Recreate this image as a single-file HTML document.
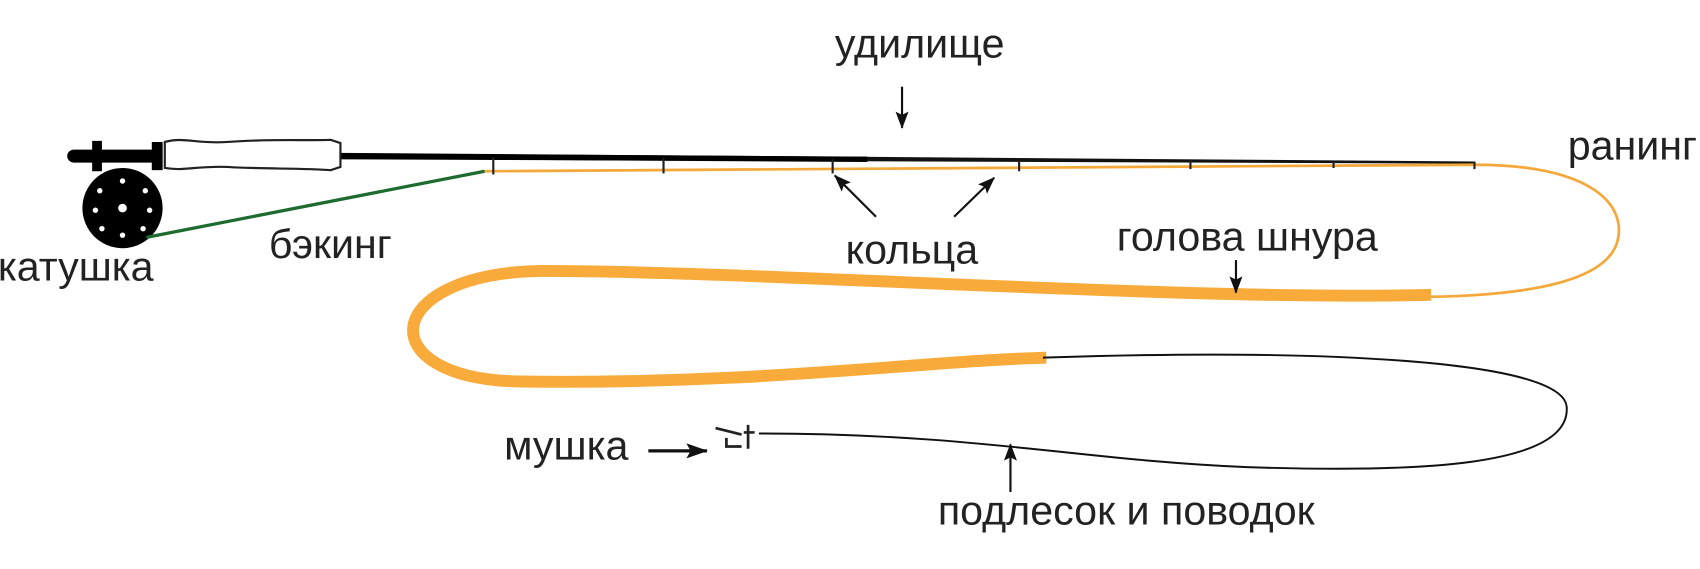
<!DOCTYPE html>
<html><head><meta charset="utf-8"><style>
html,body{margin:0;padding:0;background:#fff;}
svg{display:block;}
text{font-family:"Liberation Sans","Noto Sans CJK SC",sans-serif;fill:#222;font-size:38px;}
</style></head><body>
<svg width="1700" height="569" viewBox="0 0 1568 525" preserveAspectRatio="none" xmlns="http://www.w3.org/2000/svg">
<defs>
<marker id="ah" markerWidth="16" markerHeight="12" refX="15" refY="6" orient="auto" markerUnits="userSpaceOnUse">
<path d="M0,0 L16,6 L0,12 L3,6 Z" fill="#111"/>
</marker>
<marker id="ah2" markerWidth="20" markerHeight="14" refX="19" refY="7" orient="auto" markerUnits="userSpaceOnUse">
<path d="M0,0 L20,7 L0,14 L4,7 Z" fill="#111"/>
</marker>
</defs>
<path d="M315,141 L1360,149 L1360,151 L315,147 Z" fill="#111"/>
<line x1="315" y1="144" x2="800" y2="147" stroke="#000" stroke-width="5"/>
<rect x="62" y="138" width="88" height="12" rx="6" fill="#000"/>
<rect x="85" y="130" width="9" height="28" fill="#000"/>
<rect x="140" y="131" width="10" height="26" fill="#000"/>
<path d="M152,131 C170,126 180,133 210,131 C250,128 280,130 305,129 L314,132 L314,154 L305,157 C280,155 240,156 210,154 C180,153 170,158 152,155 Z" fill="#fff" stroke="#222" stroke-width="2"/>
<circle cx="113" cy="192" r="37" fill="#000"/>
<g fill="#fff">
<circle cx="113" cy="192" r="4"/>
<circle cx="113" cy="167" r="2.5"/><circle cx="113" cy="217" r="2.5"/>
<circle cx="92" cy="176" r="2.5"/><circle cx="134" cy="176" r="2.5"/>
<circle cx="88" cy="194" r="2.5"/><circle cx="138" cy="194" r="2.5"/>
<circle cx="94" cy="211" r="2.5"/><circle cx="132" cy="211" r="2.5"/>
</g>
<line x1="135" y1="219" x2="447" y2="158" stroke="#1e6b30" stroke-width="3"/>
<path d="M447,158 L1360,152 C1470,152 1500,190 1492,222 C1482,262 1400,274 1300,274" fill="none" stroke="#f5a83a" stroke-width="2.5"/>
<path d="M1320,272 C1100,278 700,250 500,250 C350,252 340,350 480,352 C700,355 850,333 965,330" fill="none" stroke="#f8ab3a" stroke-width="11"/>
<path d="M962,330 C1200,322 1440,330 1445,375 C1450,432 1300,436 1150,431 C1000,425 900,400 700,400" fill="none" stroke="#111" stroke-width="1.8"/>
<g stroke="#222" stroke-width="2">
<line x1="455" y1="145" x2="455" y2="161"/>
<line x1="612" y1="146" x2="612" y2="160"/>
<line x1="768" y1="147" x2="768" y2="160"/>
<line x1="940" y1="148" x2="940" y2="158"/>
<line x1="1098" y1="148" x2="1098" y2="156"/>
<line x1="1230" y1="149" x2="1230" y2="155"/>
<line x1="1360" y1="149" x2="1360" y2="156"/>
</g>
<path d="M660,395 L684,401 M670,404 L670,412 L684,412 M690,392 L690,414 M686,399 L696,399" stroke="#222" stroke-width="2.5" fill="none"/>
<g stroke="#111" stroke-width="2">
<line x1="832" y1="80" x2="832" y2="118" marker-end="url(#ah)"/>
<line x1="808" y1="200" x2="770" y2="162" marker-end="url(#ah)"/>
<line x1="880" y1="200" x2="917" y2="164" marker-end="url(#ah)"/>
<line x1="1140" y1="240" x2="1140" y2="270" marker-end="url(#ah)"/>
<line x1="598" y1="416" x2="652" y2="416" stroke-width="3" marker-end="url(#ah2)"/>
<line x1="932" y1="454" x2="932" y2="410" marker-end="url(#ah)"/>
</g>
<text x="770" y="53">удилище</text>
<text x="1446" y="147">ранинг</text>
<text x="-2" y="259">катушка</text>
<text x="248" y="238">бэкинг</text>
<text x="780" y="243">кольца</text>
<text x="1030" y="231">голова шнура</text>
<text x="465" y="424">мушка</text>
<text x="865" y="484">подлесок и поводок</text>
</svg>
</body></html>
